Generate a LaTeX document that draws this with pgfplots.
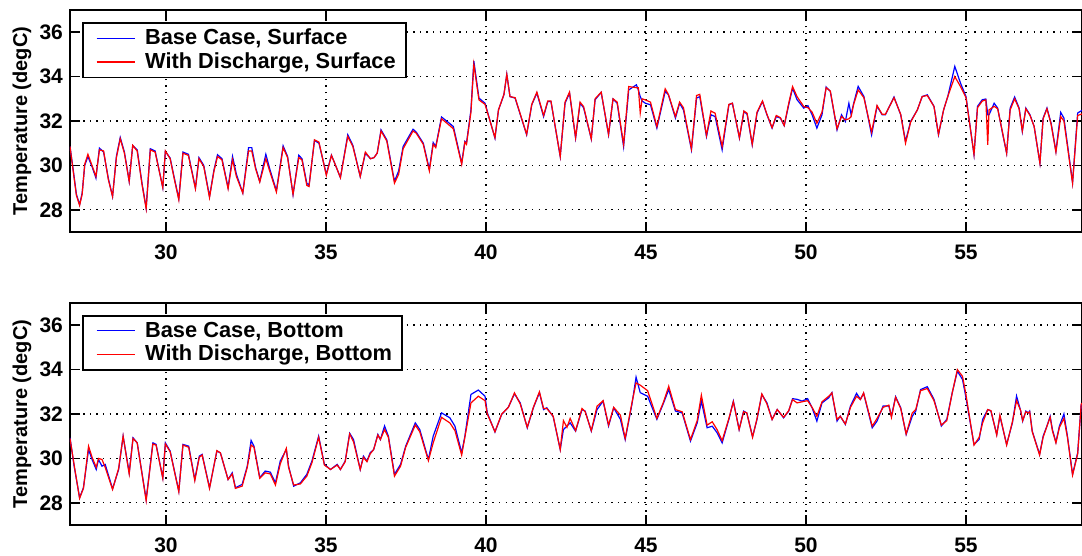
\documentclass[border=0pt]{standalone}
\usepackage{fontspec}
\setmainfont{Liberation Sans}
\usepackage{pgfplots}
\usepackage{pgfplotstable}
\pgfplotsset{compat=1.18}

% t = day, b = base case, d = with discharge
\pgfplotstableread{
t b d
27.00 30.85 30.85
27.10 29.80 29.75
27.20 28.70 28.65
27.30 28.23 28.20
27.38 28.75 28.70
27.46 30.00 30.05
27.56 30.40 30.50
27.70 29.90 29.95
27.81 29.43 29.50
27.92 30.78 30.70
28.05 30.60 30.65
28.20 29.40 29.35
28.33 28.60 28.60
28.45 30.40 30.35
28.57 31.26 31.20
28.70 30.60 30.55
28.85 29.28 29.28
28.96 30.90 30.90
29.10 30.70 30.65
29.25 29.20 29.15
29.38 28.08 28.05
29.51 30.75 30.70
29.66 30.65 30.60
29.90 29.00 29.00
29.98 30.63 30.65
30.13 30.33 30.30
30.25 29.50 29.45
30.40 28.50 28.45
30.53 30.60 30.55
30.70 30.50 30.45
30.92 28.98 28.95
31.03 30.35 30.30
31.18 30.00 29.95
31.36 28.60 28.55
31.50 29.80 29.75
31.61 30.48 30.40
31.75 30.30 30.25
31.94 29.00 28.95
32.08 30.40 30.25
32.20 29.60 29.50
32.40 28.76 28.75
32.58 30.80 30.65
32.68 30.80 30.65
32.80 29.90 29.85
32.93 29.28 29.25
33.12 30.50 30.30
33.25 29.80 29.70
33.45 28.86 28.80
33.66 30.88 30.80
33.80 30.40 30.35
33.97 28.68 28.70
34.15 30.46 30.35
34.25 30.30 30.25
34.40 29.20 29.10
34.47 29.10 29.05
34.64 31.12 31.15
34.78 31.00 31.05
35.01 29.60 29.55
35.17 30.46 30.45
35.30 30.00 30.00
35.45 29.45 29.45
35.68 31.38 31.30
35.84 30.90 30.85
36.07 29.50 29.50
36.23 30.55 30.60
36.39 30.30 30.30
36.50 30.35 30.35
36.60 30.55 30.55
36.72 31.60 31.55
36.90 31.15 31.10
37.14 29.28 29.20
37.27 29.75 29.60
37.41 30.85 30.75
37.72 31.63 31.55
37.82 31.50 31.45
38.04 31.00 30.95
38.23 29.83 29.75
38.35 31.03 30.95
38.43 30.85 30.80
38.61 32.18 32.10
38.82 31.94 31.85
38.98 31.75 31.65
39.24 30.10 30.05
39.34 31.08 31.05
39.39 31.00 30.95
39.53 32.50 32.40
39.62 34.70 34.55
39.78 33.03 32.95
39.97 32.80 32.75
40.28 31.23 31.25
40.39 32.50 32.50
40.56 33.18 33.20
40.65 34.10 34.10
40.75 33.10 33.10
40.91 33.03 33.05
41.27 31.38 31.40
41.43 32.73 32.75
41.59 33.26 33.30
41.80 32.20 32.25
41.93 32.88 32.90
42.03 32.88 32.90
42.32 30.40 30.40
42.47 32.80 32.85
42.61 33.26 33.30
42.80 31.23 31.25
42.94 32.80 32.85
43.05 32.60 32.65
43.29 31.19 31.20
43.41 32.96 33.00
43.60 33.29 33.30
43.83 31.38 31.40
43.97 32.99 33.00
44.10 32.80 32.85
44.30 30.85 30.95
44.46 33.40 33.55
44.70 33.63 33.50
44.76 33.40 33.50
44.82 33.10 32.36
44.88 32.90 33.00
44.98 32.80 32.95
45.14 32.73 32.85
45.34 31.68 31.75
45.60 33.33 33.45
45.70 33.18 33.20
45.92 32.13 32.20
46.05 32.80 32.85
46.17 32.50 32.60
46.42 30.70 30.75
46.58 33.03 33.15
46.68 33.10 33.20
46.89 31.30 31.35
47.03 32.28 32.45
47.16 32.20 32.35
47.38 30.70 30.85
47.59 32.73 32.75
47.70 32.80 32.80
47.92 31.23 31.25
48.06 32.43 32.45
48.16 32.30 32.35
48.32 30.93 30.95
48.47 32.36 32.40
48.64 32.88 32.90
48.78 32.28 32.30
48.94 31.68 31.70
49.07 32.20 32.25
49.20 32.13 32.15
49.32 31.79 31.80
49.46 32.73 32.80
49.58 33.48 33.55
49.72 32.96 33.10
49.93 32.58 32.65
50.06 32.69 32.60
50.19 32.28 32.40
50.34 31.68 31.90
50.50 32.28 32.40
50.63 33.53 33.50
50.76 33.33 33.35
50.97 31.60 31.65
51.11 32.28 32.20
51.23 31.98 32.05
51.34 32.80 32.10
51.41 32.28 32.20
51.49 32.80 32.75
51.63 33.56 33.40
51.81 33.10 33.05
52.05 31.38 31.50
52.22 32.66 32.70
52.38 32.28 32.30
52.48 32.28 32.30
52.75 33.08 33.05
52.96 32.28 32.30
53.11 31.08 31.00
53.27 31.98 31.95
53.48 32.50 32.50
53.63 33.10 33.10
53.79 33.18 33.15
54.00 32.66 32.65
54.14 31.38 31.40
54.30 32.50 32.50
54.43 33.10 33.10
54.65 34.46 34.00
54.83 33.70 33.55
55.00 33.10 33.05
55.25 30.48 30.50
55.36 32.66 32.60
55.51 32.96 32.90
55.62 32.99 32.95
55.68 32.28 30.93
55.72 32.28 32.50
55.88 32.80 32.66
55.99 32.58 32.55
56.14 31.46 31.50
56.27 30.55 30.55
56.38 32.58 32.50
56.52 33.08 33.00
56.66 32.58 32.55
56.76 31.53 31.55
56.87 32.58 32.55
57.00 32.28 32.25
57.13 31.75 31.75
57.31 30.10 30.10
57.41 32.13 32.10
57.53 32.58 32.55
57.66 31.90 31.85
57.81 30.63 30.60
57.96 32.39 32.20
58.06 32.13 32.00
58.33 29.23 29.20
58.49 32.36 32.25
58.65 32.50 32.33
}\surface

\pgfplotstableread{
t b d
27.00 30.93 30.90
27.13 29.65 29.70
27.30 28.23 28.20
27.42 28.68 28.65
27.58 30.40 30.55
27.69 29.95 30.05
27.82 29.50 29.60
27.89 29.95 30.00
28.00 29.65 29.95
28.10 29.73 29.60
28.33 28.63 28.60
28.52 29.50 29.55
28.66 31.00 31.00
28.85 29.35 29.30
28.97 30.93 30.90
29.10 30.70 30.70
29.38 28.15 28.10
29.59 30.70 30.65
29.69 30.63 30.60
29.90 29.13 29.10
29.98 30.70 30.65
30.13 30.33 30.30
30.40 28.53 28.50
30.53 30.63 30.60
30.71 30.55 30.50
30.90 29.05 29.00
31.04 30.10 30.05
31.13 30.18 30.15
31.36 28.68 28.65
31.59 30.33 30.35
31.70 30.25 30.25
31.94 29.05 29.05
32.07 29.35 29.30
32.17 28.68 28.65
32.38 28.83 28.75
32.54 29.65 29.60
32.66 30.81 30.60
32.75 30.55 30.50
32.93 29.13 29.10
33.10 29.43 29.35
33.26 29.38 29.30
33.42 28.90 28.80
33.57 29.88 29.75
33.76 30.40 30.45
33.83 29.65 29.60
33.99 28.75 28.80
34.20 28.90 28.85
34.40 29.28 29.20
34.56 29.88 29.80
34.77 31.00 30.95
34.95 29.73 29.70
35.14 29.50 29.50
35.35 29.73 29.70
35.45 29.50 29.50
35.60 29.88 29.85
35.74 31.13 31.10
35.86 30.85 30.75
36.07 29.50 29.50
36.17 30.10 30.05
36.28 29.88 29.85
36.38 30.25 30.20
36.49 30.40 30.40
36.62 31.08 31.05
36.70 30.85 30.85
36.83 31.46 31.30
36.95 31.00 30.95
37.14 29.28 29.20
37.33 29.73 29.65
37.49 30.55 30.50
37.79 31.60 31.50
37.93 31.30 31.20
38.20 29.95 29.90
38.35 31.00 30.70
38.61 32.05 31.85
38.87 31.83 31.60
39.03 31.45 31.25
39.24 30.25 30.15
39.34 31.00 30.95
39.53 32.88 32.50
39.76 33.08 32.80
39.97 32.80 32.60
40.04 32.05 32.00
40.28 31.19 31.20
40.49 31.98 32.00
40.70 32.31 32.30
40.89 32.91 32.95
41.07 32.50 32.45
41.29 31.38 31.40
41.48 32.28 32.30
41.67 32.96 33.00
41.80 32.20 32.25
41.90 32.28 32.25
42.10 31.88 31.90
42.32 30.40 30.40
42.42 31.30 31.70
42.53 31.45 31.40
42.63 31.60 31.80
42.80 31.23 31.25
43.00 32.20 32.25
43.10 32.13 32.10
43.29 31.23 31.25
43.47 32.20 32.35
43.66 32.58 32.60
43.83 31.46 31.50
43.99 32.28 32.30
44.20 31.76 31.95
44.35 30.85 30.90
44.56 32.43 32.50
44.69 33.66 33.40
44.82 32.96 33.30
45.05 32.80 33.05
45.34 31.76 31.80
45.55 32.50 32.55
45.71 33.10 33.25
45.92 32.13 32.20
46.13 32.05 32.10
46.39 30.78 30.85
46.60 31.60 31.70
46.73 32.58 32.85
46.91 31.38 31.50
47.07 31.45 31.65
47.22 31.16 31.30
47.38 30.70 30.80
47.59 31.76 31.80
47.73 32.58 32.55
47.91 31.30 31.30
48.05 32.13 32.10
48.15 32.05 32.05
48.33 30.98 30.95
48.47 31.76 31.80
48.62 32.88 32.90
48.78 32.50 32.45
48.94 31.76 31.75
49.10 32.20 32.20
49.30 31.83 31.85
49.46 32.13 32.15
49.58 32.69 32.65
49.72 32.66 32.50
49.88 32.58 32.55
50.05 32.69 32.60
50.19 32.28 32.30
50.34 31.68 31.90
50.50 32.50 32.55
50.71 32.73 32.80
50.81 32.96 32.95
50.97 31.68 31.75
51.07 31.90 31.90
51.23 31.53 31.55
51.39 32.36 32.30
51.58 32.93 32.80
51.70 32.66 32.65
51.80 32.93 32.95
52.07 31.38 31.45
52.22 31.68 31.80
52.41 32.36 32.30
52.59 32.36 32.40
52.67 31.90 31.85
52.80 32.78 32.75
52.96 32.28 32.25
53.13 31.08 31.10
53.32 31.90 32.05
53.43 32.13 32.20
53.58 33.10 33.05
53.79 33.23 33.15
54.00 32.66 32.60
54.23 31.46 31.50
54.40 31.76 31.70
54.57 32.96 32.95
54.73 33.93 34.00
54.89 33.56 33.70
54.99 32.81 32.95
55.25 30.63 30.60
55.41 30.85 30.95
55.52 31.76 31.60
55.68 32.20 32.20
55.78 32.13 32.15
55.96 31.08 31.05
56.06 31.90 31.95
56.27 30.63 30.60
56.45 31.60 31.65
56.58 32.81 32.60
56.71 32.13 32.15
56.77 31.68 31.70
56.87 32.13 32.10
56.95 32.05 32.05
56.99 32.13 32.10
57.07 31.23 31.20
57.30 30.18 30.15
57.41 31.00 30.95
57.53 31.46 31.45
57.63 31.90 31.85
57.70 31.30 31.25
57.81 30.73 30.70
57.92 31.46 31.40
58.06 32.00 31.80
58.17 31.00 30.95
58.33 29.28 29.25
58.49 30.25 30.20
58.60 32.43 32.45
58.65 32.50 32.50
}\bottom

\pgfplotsset{tempax/.style={
  width=506pt, height=111pt, scale only axis,
  xmin=27, xmax=58.625, ymin=27, ymax=37,
  xtick={30,35,...,55}, ytick={28,30,...,36},
  grid=major,
  grid style={black, line width=0.7pt, dash pattern=on 0.7pt off 2.6pt},
  axis line style={line width=0.8pt},
  major tick style={black, line width=0.8pt},
  major tick length=5pt,
  /pgf/number format/assume math mode=true,
  tick label style={font=\bfseries\fontsize{10.5}{12}\selectfont},
  xticklabel style={yshift=-3pt},
  ylabel={Temperature (degC)},
  ylabel style={font=\bfseries\fontsize{10}{12}\selectfont,
    at={(axis description cs:-0.0474,0.5)}, anchor=center},
  legend style={at={(axis description cs:0.012,0.946)}, anchor=north west,
    draw=black, line width=0.8pt, font=\bfseries\fontsize{10.9}{12}\selectfont,
    inner xsep=3pt, inner ysep=1pt, row sep=-1.5pt, column sep=3pt},
  legend cell align=left,
  legend image code/.code={\path (0pt,0pt); \draw[#1] (3.5pt,0pt) -- (22.5pt,0pt);},
}}

\begin{document}
\begin{tikzpicture}
\useasboundingbox (-35pt,-15.5pt) rectangle (506pt,262.5pt);
\begin{axis}[tempax, at={(0pt,146.5pt)}, anchor=south west]
  \addplot[blue, line width=0.6pt] table[x=t, y=b] {\surface};
  \addplot[red, line width=0.6pt] table[x=t, y=d] {\surface};
  \legend{{Base Case, Surface}, {With Discharge, Surface}}
\end{axis}
\begin{axis}[tempax, at={(0pt,0pt)}, anchor=south west]
  \addplot[blue, line width=0.6pt] table[x=t, y=b] {\bottom};
  \addplot[red, line width=0.6pt] table[x=t, y=d] {\bottom};
  \legend{{Base Case, Bottom}, {With Discharge, Bottom}}
\end{axis}
\end{tikzpicture}
\end{document}
